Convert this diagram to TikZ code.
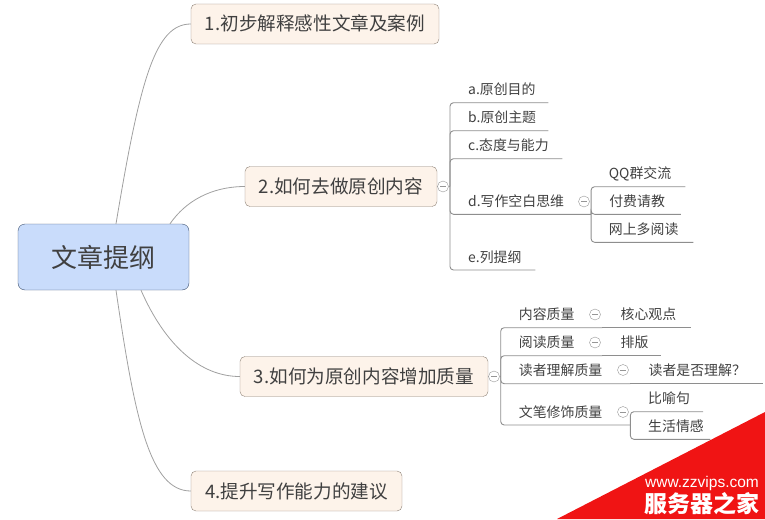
\documentclass[tikz,border=0pt]{standalone}
\usepackage{fontspec}
\setmainfont{Noto Sans CJK SC}
\newfontfamily\wwwfont{Liberation Sans}
\definecolor{inkgray}{HTML}{404040}
\definecolor{linegray}{HTML}{8E8E8E}
\definecolor{curvegray}{HTML}{A0A0A0}
\definecolor{foldgray}{HTML}{969696}
\definecolor{topicfill}{HTML}{FDF3EA}
\definecolor{topicdraw}{HTML}{8F8378}
\definecolor{rootfill}{HTML}{C9DCFB}
\definecolor{rootdraw}{HTML}{3F5270}
\definecolor{markred}{HTML}{F01414}
\begin{document}
\begin{tikzpicture}[x=1pt, y=-1pt,
    root/.style={rectangle, draw=rootdraw, fill=rootfill, rounded corners=7pt, minimum width=171pt, minimum height=66pt, text=inkgray, font=\fontsize{26}{28}\selectfont},
    topic/.style={rectangle, draw=topicdraw, fill=topicfill, rounded corners=5pt, minimum height=40pt, text height=14pt, text depth=0pt, text=inkgray, font=\fontsize{18.6}{20}\selectfont},
    leaf/.style={inner sep=0pt, minimum height=26pt, text width=#1, align=left, anchor=south west, text=inkgray, font=\fontsize{13.9}{15}\selectfont, execute at begin node={\hspace*{18pt}}},
    fold/.style={circle, draw=foldgray, minimum size=11pt, inner sep=0pt, path picture={\draw[foldgray] ([xshift=2.5pt]path picture bounding box.west) -- ([xshift=-2.5pt]path picture bounding box.east);}},
    curve/.style={draw=curvegray, line width=0.8pt},
    branch/.style={draw=linegray, line width=0.9pt, rounded corners=3.5pt}]

\useasboundingbox (0,0) rectangle (765,519);

% Nodes
\node [root] (main) at (103.5,257) {文章提纲};
\node [topic, minimum width=248pt] (part1) at (315,24) {1.初步解释感性文章及案例};
\node [topic, minimum width=192pt] (part2) at (341,186.5) {2.如何去做原创内容};
\node [topic, minimum width=248pt] (part3) at (364,376.5) {3.如何为原创内容增加质量};
\node [topic, minimum width=211pt] (part4) at (296.5,491) {4.提升写作能力的建议};

\node [leaf=98pt] (goal) at (450,102.7) {a.原创目的};
\node [leaf=98pt] (theme) at (450,130.7) {b.原创主题};
\node [leaf=112pt] (attitude) at (450,158.7) {c.态度与能力};
\node [leaf=140.7pt] (blank) at (450,214.3) {d.写作空白思维};
\node [leaf=85pt] (outline) at (450,270) {e.列提纲};
\node [leaf=94.3pt] (qq) at (590.7,186.7) {QQ群交流};
\node [leaf=89.3pt] (paid) at (blank.south east) {付费请教};
\node [leaf=102.3pt] (web) at (590.7,242.3) {网上多阅读};

\node [leaf=101.3pt] (content) at (500.7,327.7) {内容质量};
\node [leaf=88pt] (core) at (content.south east) {核心观点};
\node [leaf=101.3pt] (reading) at (500.7,355.7) {阅读质量};
\node [leaf=58pt] (layout) at (reading.south east) {排版};
\node [leaf=129.3pt] (reader) at (500.7,383.7) {读者理解质量};
\node [leaf=131.7pt] (check) at (reader.south east) {读者是否理解？};
\node [leaf=129.3pt] (style) at (500.7,425) {文笔修饰质量};
\node [leaf=72.7pt] (metaphor) at (630,411.7) {比喻句};
\node [leaf=80pt] (life) at (630,439.3) {生活情感};

\node [fold] (fold2) at (443,186.5) {};
\node [fold] (foldblank) at (584,201.5) {};
\node [fold] (fold3) at (494,376.5) {};
\node [fold] (foldcontent) at (595,314.5) {};
\node [fold] (foldreading) at (595,342.5) {};
\node [fold] (foldreader) at (623,370) {};
\node [fold] (foldstyle) at (623,412) {};

\coordinate (hub2) at (goal.south west |- fold2);
\coordinate (hub3) at (content.south west |- fold3);

% Arrows
\draw[curve] ([xshift=12.5pt]main.north) .. controls (140,80) and (155,24) .. (part1.west);
\draw[curve] ([xshift=66.5pt]main.north) .. controls (190,195) and (220,186.5) .. (part2.west);
\draw[curve] ([xshift=37.5pt]main.south) .. controls (165,345) and (200,376.5) .. (part3.west);
\draw[curve] ([xshift=12.5pt]main.south) .. controls (135,420) and (150,491) .. (part4.west);

\draw[curve] (part2.east) -- (fold2);
\draw[curve] (part3.east) -- (fold3);
\draw[curve] (fold2) -- (hub2);
\draw[curve] (fold3) -- (hub3);

\foreach \leafname in {goal, theme, attitude, blank, outline}
    \draw[branch] (hub2) |- (\leafname.south east);
\foreach \leafname in {qq, paid, web}
    \draw[branch] (blank.south east) |- (\leafname.south east);
\foreach \leafname in {content, reading, reader, style}
    \draw[branch] (hub3) |- (\leafname.south east);
\foreach \leafname in {core, layout, check}
    \draw[branch] (\leafname.south west) -- (\leafname.south east);
\foreach \leafname in {metaphor, life}
    \draw[branch] (style.south east) |- (\leafname.south east);

% Watermark
\fill[markred] (765,412) -- (557,519) -- (765,519) -- cycle;
\node [text=white, inner sep=0pt, font=\wwwfont\fontsize{15.5}{17}\selectfont] (site) at (702,483) {www.zzvips.com};
\node [text=white, inner sep=0pt, font=\fontsize{23}{25}\bfseries\selectfont] (brand) at (702,504) {服务器之家};

\end{tikzpicture}
\end{document}
